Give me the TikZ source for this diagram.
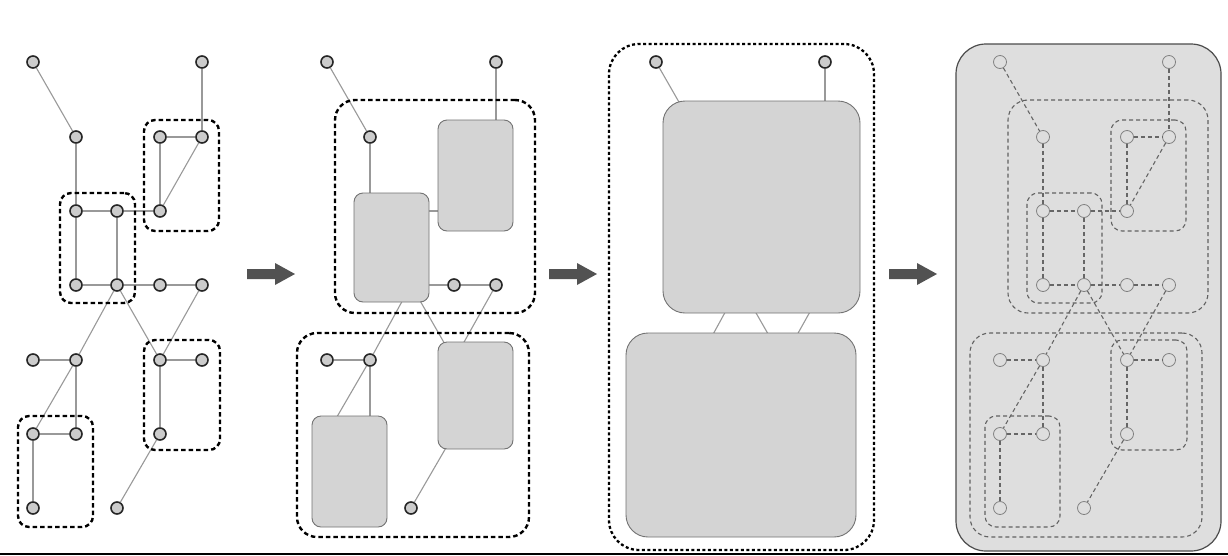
\documentclass[tikz,border=0pt]{standalone}
\usetikzlibrary{fit}
\definecolor{panelgray}{gray}{0.87}
\definecolor{boxgray}{gray}{0.83}
\tikzset{
  vtx/.style={circle, draw=black!85, fill=black!20, line width=1.6pt, minimum size=12pt, inner sep=0pt},
  vtxlight/.style={circle, draw=black!50, fill=panelgray, line width=0.8pt, minimum size=13pt, inner sep=0pt},
  edg/.style={draw=black!40, line width=1.1pt},
  edgdash/.style={draw=black!60, line width=1.1pt, dash pattern=on 4pt off 3pt},
  clus/.style={rectangle, draw=black, line width=2.4pt, dash pattern=on 4.5pt off 3pt, rounded corners=11pt},
  clusbig/.style={clus, rounded corners=20pt},
  clushuge/.style={rectangle, draw=black, line width=2.3pt, dash pattern=on 3pt off 2.5pt, rounded corners=30pt},
  cluslight/.style={rectangle, draw=black!62, line width=1.1pt, dash pattern=on 4pt off 3pt, rounded corners=11pt},
  cluslightbig/.style={cluslight, rounded corners=20pt},
  gbox/.style={rectangle, draw=black!55, fill=boxgray, line width=0.9pt, rounded corners=9pt},
  gboxbig/.style={gbox, rounded corners=22pt},
  outerbox/.style={rectangle, draw=black!70, fill=panelgray, line width=1.2pt, rounded corners=30pt},
  fatarrow/.style={fill=black!68},
}
\newcommand\mybox[6]{\node[#1, inner sep=0pt, fit={(#3,#4) (#5,#6)}] (#2) {};}
\newcommand\myarrow[3]{\fill[fatarrow] (#2,#3-5) -- ++(28,0) -- ++(0,-6) -- ++(20,11) -- ++(-20,11) -- ++(0,-6) -- ++(-28,0) -- cycle;}
\def\Vlist{1/33/62, 2/202/62, 3/76/137, 4/160/137, 5/202/137, 6/76/211, 7/117/211, 8/160/211, 9/76/285, 10/117/285, 11/160/285, 12/202/285, 13/33/360, 14/76/360, 15/160/360, 16/202/360, 17/33/434, 18/76/434, 19/160/434, 20/33/508, 21/117/508}
\def\Elist{1/3, 2/5, 3/6, 4/5, 4/8, 5/8, 6/7, 7/8, 6/9, 7/10, 9/10, 10/11, 11/12, 10/14, 10/15, 12/15, 13/14, 14/17, 14/18, 17/18, 17/20, 15/16, 15/19, 19/21}
\begin{document}
\begin{tikzpicture}[x=1pt,y=-1pt]
\useasboundingbox (0,0) rectangle (1228,555);
\fill[white] (0,0) rectangle (1228,555);

% ---------- panel 1 ----------
\foreach \i/\x/\y in \Vlist {\node[vtx] (a\i) at (\x,\y) {};}
\foreach \u/\v in \Elist {\draw[edg] (a\u) -- (a\v);}
\mybox{clus}{aA}{144}{120}{219}{231}
\mybox{clus}{aB}{60}{193}{135}{303}
\mybox{clus}{aC}{144}{340}{220}{450}
\mybox{clus}{aD}{18}{416}{93}{527}

\myarrow{ar1}{247}{274}

% ---------- panel 2 ----------
\foreach \i/\x/\y in \Vlist {\coordinate (b\i) at (\x+294,\y);}
\foreach \i in {1,2,3,11,12,13,14,21} {\node[vtx] (b\i) at (b\i) {};}
\foreach \u/\v in \Elist {\draw[edg] (b\u) -- (b\v);}
\mybox{gbox}{bG1}{438}{120}{513}{231}
\mybox{gbox}{bG2}{354}{193}{429}{302}
\mybox{gbox}{bG3}{312}{416}{387}{527}
\mybox{gbox}{bG4}{438}{342}{513}{449}
\mybox{clusbig}{bTop}{335}{100}{535}{313}
\mybox{clusbig}{bBot}{297}{333}{529}{537}

\myarrow{ar2}{549}{274}

% ---------- panel 3 ----------
\foreach \i/\x/\y in \Vlist {\coordinate (c\i) at (\x+623,\y);}
\foreach \i in {1,2} {\node[vtx] (c\i) at (c\i) {};}
\foreach \u/\v in \Elist {\draw[edg] (c\u) -- (c\v);}
\mybox{gboxbig}{cTop}{663}{101}{860}{313}
\mybox{gboxbig}{cBot}{626}{333}{856}{537}
\mybox{clushuge}{cAll}{609}{44}{874}{550}

\myarrow{ar3}{889}{274}

% ---------- panel 4 ----------
\mybox{outerbox}{dAll}{956}{44}{1221}{551}
\mybox{cluslightbig}{dTop}{1008}{100}{1208}{313}
\mybox{cluslightbig}{dBot}{970}{333}{1202}{537}
\mybox{cluslight}{dA}{1111}{120}{1186}{231}
\mybox{cluslight}{dB}{1027}{193}{1102}{303}
\mybox{cluslight}{dC}{1111}{340}{1187}{450}
\mybox{cluslight}{dD}{985}{416}{1060}{527}
\foreach \i/\x/\y in \Vlist {\node[vtxlight] (d\i) at (\x+967,\y) {};}
\foreach \u/\v in \Elist {\draw[edgdash] (d\u) -- (d\v);}

% bottom rule
\fill[black] (0,552.8) rectangle (1228,555);
\end{tikzpicture}
\end{document}
